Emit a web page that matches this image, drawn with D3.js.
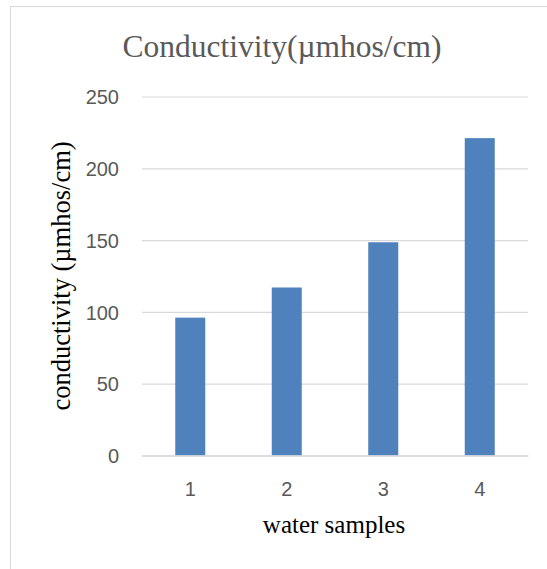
<!DOCTYPE html>
<html>
<head>
<meta charset="utf-8">
<script src="https://cdn.jsdelivr.net/npm/d3@7"></script>
<style>
  html, body { margin: 0; padding: 0; background: #fff; }
  svg { display: block; }
</style>
</head>
<body>
<svg id="chart" width="547" height="569"></svg>
<script>
const categories = ["1", "2", "3", "4"];
const values = [96, 117, 148.5, 221];
const yTicks = [0, 50, 100, 150, 200, 250];
const titleText = "Conductivity(µmhos/cm)";
const xTitle = "water samples";
const yTitle = "conductivity (µmhos/cm)";

const svg = d3.select("#chart");
const W = 547, H = 569;
const plot = { left: 142, right: 528, top: 96.5, bottom: 455.5 };

// chart area border
svg.append("rect")
  .attr("x", 10.5).attr("y", 6.5)
  .attr("width", W + 20).attr("height", H + 20)
  .attr("fill", "#fff").attr("stroke", "#d9d9d9").attr("stroke-width", 1);

const x = d3.scaleBand()
  .domain(categories)
  .range([plot.left, plot.right])
  .paddingInner(0.689)
  .paddingOuter(0.3445);

const y = d3.scaleLinear()
  .domain([0, 250])
  .range([plot.bottom, plot.top]);

// gridlines
const yAxis = d3.axisLeft(y)
  .tickValues(yTicks)
  .tickSize(-(plot.right - plot.left))
  .tickPadding(23)
  .tickFormat(d3.format("d"));

const gy = svg.append("g")
  .attr("transform", `translate(${plot.left},0)`)
  .call(yAxis);
gy.select(".domain").remove();
gy.selectAll(".tick line")
  .attr("stroke", "#d9d9d9").attr("stroke-width", 1.2);
gy.selectAll(".tick text")
  .attr("fill", "#595959")
  .attr("font-family", "'Liberation Sans', Arial, sans-serif")
  .attr("font-size", 20)
  .attr("dy", "0.36em");

// bars
svg.append("g").selectAll("rect")
  .data(values)
  .join("rect")
  .attr("x", (d, i) => x(categories[i]))
  .attr("width", x.bandwidth())
  .attr("y", d => y(d))
  .attr("height", d => y(0) - y(d))
  .attr("fill", "#4f81bd");

// x axis
const xAxis = d3.axisBottom(x).tickSize(0).tickPadding(26);
const gx = svg.append("g")
  .attr("transform", `translate(0,${plot.bottom})`)
  .call(xAxis);
gx.select(".domain")
  .attr("stroke", "#d9d9d9").attr("stroke-width", 1.5);
gx.selectAll(".tick text")
  .attr("fill", "#595959")
  .attr("font-family", "'Liberation Sans', Arial, sans-serif")
  .attr("font-size", 20);

// title
svg.append("text")
  .attr("x", 282).attr("y", 56.5)
  .attr("text-anchor", "middle")
  .attr("fill", "#595959")
  .attr("font-family", "'Liberation Serif', 'Times New Roman', serif")
  .attr("font-size", 31.5)
  .text(titleText);

// x title
svg.append("text")
  .attr("x", 334).attr("y", 533)
  .attr("text-anchor", "middle")
  .attr("fill", "#000")
  .attr("font-family", "'Liberation Serif', 'Times New Roman', serif")
  .attr("font-size", 25)
  .text(xTitle);

// y title
svg.append("text")
  .attr("transform", "translate(70,276) rotate(-90)")
  .attr("text-anchor", "middle")
  .attr("fill", "#000")
  .attr("font-family", "'Liberation Serif', 'Times New Roman', serif")
  .attr("font-size", 26.5)
  .text(yTitle);
</script>
</body>
</html>
